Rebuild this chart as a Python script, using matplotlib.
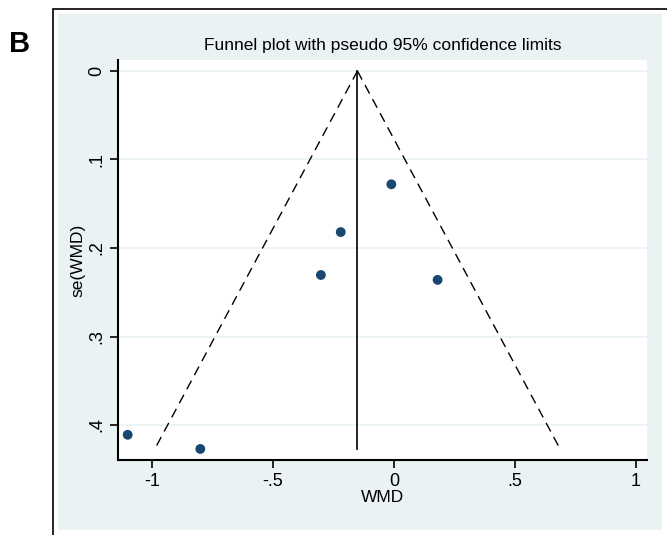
import numpy as np
import matplotlib.pyplot as plt
from matplotlib.patches import Rectangle

# study estimates
wmd = [-1.10, -0.80, -0.302, -0.220, -0.011, 0.180]
se_wmd = [0.411, 0.427, 0.2305, 0.182, 0.128, 0.236]
pooled = -0.151

x_ticks = [-1, -0.5, 0, 0.5, 1]
x_labels = ["-1", "-.5", "0", ".5", "1"]
y_ticks = [0, 0.1, 0.2, 0.3, 0.4]
y_labels = ["0", ".1", ".2", ".3", ".4"]

plt.rcParams['font.family'] = ['Liberation Sans', 'DejaVu Sans']

W, H = 667, 535
fig = plt.figure(figsize=(W / 100, H / 100), dpi=100)
fig.patch.set_facecolor("white")

# outer frame and light blue graph region (pixel coords -> figure fraction)
def box(x0, y0, x1, y1, **kw):
    fig.patches.append(Rectangle((x0 / W, 1 - y1 / H), (x1 - x0) / W, (y1 - y0) / H,
                                 transform=fig.transFigure, **kw))

box(53, 9, 668, 536, facecolor="white", edgecolor="black", lw=1.2, zorder=-2)
box(58, 14, 662, 530, facecolor="#eaf2f3", edgecolor="none", zorder=-1)

fig.text(20 / W, 1 - 44 / H, "B", fontsize=21, fontweight="bold",
         ha="center", va="center")

ax = fig.add_axes([118 / W, 1 - 460 / H, (647 - 118) / W, (460 - 60) / H])
ax.set_facecolor("white")

# pseudo 95% limits
se_max = max(se_wmd)
se_line = np.array([0, se_max])
ax.plot(pooled - 1.96 * se_line, se_line, color="black", lw=1, ls=(0, (7, 4.5)))
ax.plot(pooled + 1.96 * se_line, se_line, color="black", lw=1, ls=(0, (7, 4.5)))
ax.plot([pooled, pooled], se_line, color="black", lw=1.2)

ax.scatter(wmd, se_wmd, s=50, color="#1a476f", zorder=3, edgecolors="none")

ax.set_xlim(-1.14, 1.045)
ax.set_ylim(0.4395, -0.0124)
ax.set_xticks(x_ticks)
ax.set_xticklabels(x_labels)
ax.set_yticks(y_ticks)
ax.set_yticklabels(y_labels, rotation=90, va="center")
ax.grid(axis="y", color="#eaf2f3", lw=1.2)
ax.set_axisbelow(True)

for side in ["top", "right"]:
    ax.spines[side].set_visible(False)
for side in ["left", "bottom"]:
    ax.spines[side].set_linewidth(1.5)
ax.tick_params(length=6, width=1.2, labelsize=13, pad=3)

ax.set_xlabel("WMD", fontsize=12.5, labelpad=0)
ax.set_ylabel("se(WMD)", fontsize=12.5, labelpad=2)
ax.set_title("Funnel plot with pseudo 95% confidence limits", fontsize=12.5, pad=7)

fig.savefig("out.png", dpi=100)
